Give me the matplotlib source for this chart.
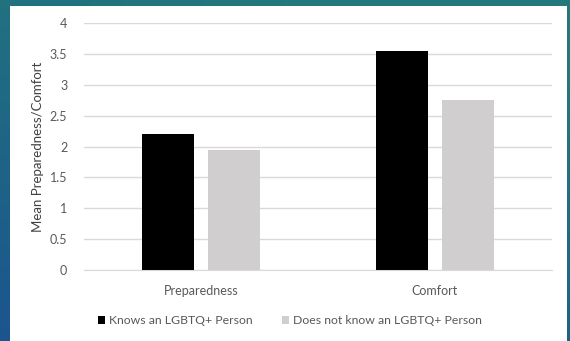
import matplotlib.pyplot as plt
import numpy as np
from matplotlib.patches import Rectangle

categories = ['Preparedness', 'Comfort']
knows = [2.20, 3.55]
not_knows = [1.95, 2.76]
series_names = ['Knows an LGBTQ+ Person', 'Does not know an LGBTQ+ Person']

plt.rcParams['font.family'] = ['Lato', 'DejaVu Sans']
txt = '#595959'

fig = plt.figure(figsize=(5.7, 3.41), dpi=100)
fig.patch.set_facecolor('#1f6f7c')

# slide background: teal at top, bluer at lower left
bg = fig.add_axes([0, 0, 1, 1], zorder=-10)
gy, gx = np.mgrid[0:1:50j, 0:1:50j]
t = np.clip(gy * 0.8 + gx * 0.4, 0, 1)
c_top = np.array([0x23, 0x78, 0x7c]) / 255
c_bot = np.array([0x1b, 0x55, 0x8e]) / 255
img = c_bot * (1 - t[..., None]) + c_top * t[..., None]
bg.imshow(img, origin='lower', aspect='auto', extent=[0, 1, 0, 1])
bg.axis('off')
bg.add_patch(Rectangle((10/570, 0), 557/570, 1 - 6/341, transform=bg.transAxes,
                       facecolor='white', edgecolor='none', zorder=5))

ax = fig.add_axes([84/570, 1 - 270/341, 468/570, 247/341])
ax.set_zorder(2)
ax.set_facecolor('none')

x = np.arange(len(categories))
w = 0.222
gap = 0.064
ax.bar(x - (w + gap)/2, knows, w, color='black', label=series_names[0], zorder=3)
ax.bar(x + (w + gap)/2, not_knows, w, color='#d0cece', label=series_names[1], zorder=3)

ax.set_xlim(-0.5, 1.5)
ax.set_ylim(0, 4)
ax.set_yticks(np.arange(0, 4.01, 0.5))
ax.set_yticklabels(['0', '0.5', '1', '1.5', '2', '2.5', '3', '3.5', '4'])
ax.set_xticks(x)
ax.set_xticklabels(categories)
ax.grid(axis='y', color='#d9d9d9', linewidth=1, zorder=0)
for s in ax.spines.values():
    s.set_visible(False)
ax.spines['bottom'].set_visible(True)
ax.spines['bottom'].set_color('#d9d9d9')
ax.tick_params(length=0, colors=txt, labelsize=9)
ax.tick_params(axis='y', pad=12)
ax.tick_params(axis='x', pad=11)
ax.set_ylabel('Mean Preparedness/Comfort', color='#404040', fontsize=9.5, labelpad=4)

ax.legend(loc='center', bbox_to_anchor=(0.44, -0.205), ncol=2, frameon=False,
          fontsize=8.8, labelcolor=txt, handlelength=0.6, handleheight=0.6,
          handletextpad=0.3, columnspacing=2.4)

plt.savefig('out.png', dpi=100, facecolor=fig.get_facecolor())
